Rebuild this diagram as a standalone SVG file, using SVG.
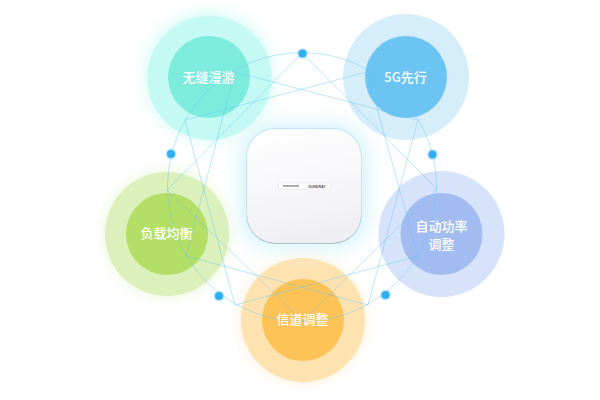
<svg xmlns="http://www.w3.org/2000/svg" width="600" height="400" viewBox="0 0 600 400">
<style>
.label{font-family:"Noto Sans CJK SC","Liberation Sans",sans-serif;font-size:13px;font-weight:500;fill:#fff;text-anchor:middle}
.link{fill:none;stroke:#62c6f2;stroke-opacity:.42;stroke-width:1}
.dot{fill:#2fb0f2;stroke:#2fb0f2;stroke-opacity:.25;stroke-width:3}
</style>
<defs>
<filter id="glow" x="-40%" y="-40%" width="180%" height="180%"><feGaussianBlur stdDeviation="8"/></filter>
<filter id="soft" x="-40%" y="-40%" width="180%" height="180%"><feGaussianBlur stdDeviation="6"/></filter>
<filter id="halo" x="-40%" y="-40%" width="180%" height="180%"><feGaussianBlur stdDeviation="10"/></filter>
<linearGradient id="shell" x1="0.200" y1="0" x2="0.400" y2="1"><stop offset="0" stop-color="#fff"/><stop offset=".5" stop-color="#f8f7fa"/><stop offset="1" stop-color="#efeef3"/></linearGradient>
</defs>
<rect width="600" height="400" fill="#fff"/>
<g id="node-roaming"><circle cx="209" cy="76" r="63" fill="#cdfaf4" filter="url(#glow)"/><circle cx="209.500" cy="78" r="62" fill="#c5f9f3"/><circle cx="209" cy="77" r="41" fill="#7eecdc"/></g>
<g id="node-5g"><circle cx="406" cy="77" r="63" fill="#d6edfa"/><circle cx="406" cy="77" r="41" fill="#6cc4f2"/></g>
<g id="node-balance"><circle cx="167" cy="234" r="63" fill="#eaf7d8" filter="url(#soft)"/><circle cx="167" cy="234" r="62" fill="#dbf0bb"/><circle cx="167" cy="234" r="41" fill="#b3df66"/></g>
<g id="node-power"><circle cx="441.500" cy="234" r="63" fill="#d6e3fa"/><circle cx="441.500" cy="234" r="41" fill="#a2bcf2"/></g>
<g id="node-channel"><circle cx="303" cy="320" r="63" fill="#fff0d8" filter="url(#soft)"/><circle cx="303" cy="320" r="62" fill="#fee3b1"/><circle cx="303" cy="320" r="41" fill="#fec356"/></g>
<g id="connectors">
<circle class="link" cx="302" cy="187" r="134.500"/>
<path class="link" d="M302 53L437 189L303 321L167 190Z"/>
<path class="link" d="M235 72L418 120L368 305L186 256L235 72M367 72L185 120L235 305L418 256L367 72Z"/>
</g>
<g id="node-device">
<rect x="241" y="124" width="126" height="124" rx="32" fill="#c4eefb" opacity=".75" filter="url(#halo)"/>
<rect x="246" y="128" width="116" height="116" rx="29" fill="#bfe6f3"/>
<rect x="247" y="130.500" width="114" height="113" rx="28" fill="#9a9ea8"/>
<rect x="247" y="129" width="114" height="114" rx="28" fill="url(#shell)"/>
<rect x="278.500" y="183" width="52" height="6" rx="1" fill="#fff" stroke="#e4e4e8" stroke-width=".6"/>
<rect x="283" y="185" width="16" height="1.800" fill="#a4a4a8"/>
<text x="317" y="187.500" font-family="Liberation Sans, sans-serif" font-size="3.600" font-weight="700" fill="#555" text-anchor="middle">SUNDRAY</text>
</g>
<g id="dots">
<circle class="dot" cx="302.500" cy="53.500" r="4"/>
<circle class="dot" cx="171" cy="154" r="4"/>
<circle class="dot" cx="432.500" cy="154.500" r="4"/>
<circle class="dot" cx="219" cy="296" r="4"/>
<circle class="dot" cx="385.500" cy="295" r="4"/>
</g>
<g id="labels">
<text class="label" x="208.500" y="82">无缝漫游</text>
<text class="label" x="405.500" y="82">5G先行</text>
<text class="label" x="166.500" y="238">负载均衡</text>
<text class="label" x="441.500" y="231">自动功率</text>
<text class="label" x="441.500" y="249">调整</text>
<text class="label" x="302.500" y="324">信道调整</text>
</g>
</svg>
